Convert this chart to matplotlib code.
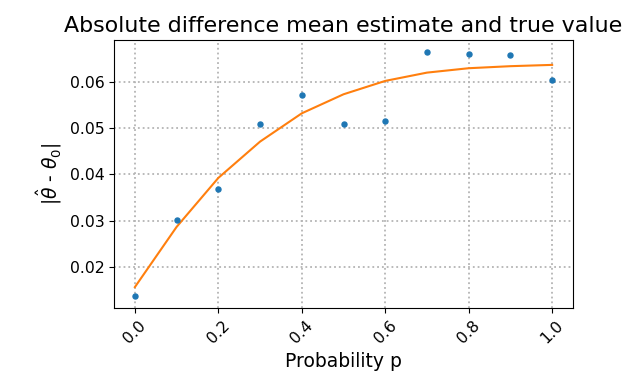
import matplotlib
matplotlib.use("Agg")
import matplotlib.pyplot as plt
import numpy as np

p = [0.0, 0.1, 0.2, 0.3, 0.4, 0.5, 0.6, 0.7, 0.8, 0.9, 1.0]
observed = [0.01374, 0.0302, 0.03676, 0.0508, 0.05704, 0.0508, 0.05143, 0.06635, 0.06605, 0.06577, 0.06043]
fitted = [0.01562, 0.02862, 0.0392, 0.04704, 0.05315, 0.05726, 0.06015, 0.06194, 0.06289, 0.06333, 0.06361]

fig = plt.figure(figsize=(6.24, 3.74), dpi=100)
ax = fig.add_axes([0.1827, 0.1765, 0.7356, 0.7165])
ax.plot(p, observed, 'o', color='#1f77b4', markersize=3.6, zorder=3)
ax.plot(p, fitted, '-', color='#ff7f0e', lw=1.5, zorder=2)
ax.grid(True, linestyle=':', color='#b4b4b4', lw=1.3)
ax.set_title('Absolute difference mean estimate and true value', fontsize=15.9)
ax.set_xlabel('Probability p', fontsize=13.5)
ax.set_ylabel(r'|$\hat{\theta}$ - $\theta_0$|', fontsize=13.5)
ax.tick_params(labelsize=11.3)
plt.setp(ax.get_xticklabels(), rotation=45)
fig.savefig('out.png', dpi=100)
